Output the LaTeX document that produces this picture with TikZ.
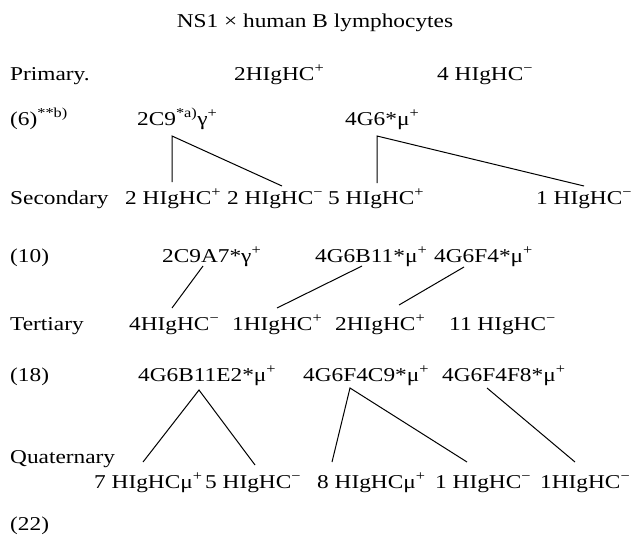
\documentclass[tikz,border=0pt]{standalone}
\usepackage{fontspec}
\setmainfont[FakeStretch=1.19]{Liberation Serif}
\usepackage{tikz}

\tikzset{
  txt/.style={anchor=base west, inner sep=0pt, font=\fontsize{19.6}{23}\selectfont},
  link/.style={line width=1pt}
}

\begin{document}
\begin{tikzpicture} [x=1pt, y=-1pt]
        \useasboundingbox (0, 0) rectangle (634, 535);
        \node[txt, anchor=base] (title) at (315, 28) {NS1 × human B lymphocytes};
        % row labels
        \node[txt] (rPrim) at (10, 80) {Primary.};
        \node[txt] (r6) at (10, 125) {(6)\textsuperscript{**b)}};
        \node[txt] (rSec) at (10, 204) {Secondary};
        \node[txt] (r10) at (10, 262) {(10)};
        \node[txt] (rTer) at (10, 330) {Tertiary};
        \node[txt] (r18) at (10, 381) {(18)};
        \node[txt] (rQua) at (10, 463) {Quaternary};
        \node[txt] (r22) at (10, 530) {(22)};
        % primary
        \node[txt] (p1) at (234, 80) {2HIgHC\textsuperscript{+}};
        \node[txt] (p2) at (437, 80) {4 HIgHC\textsuperscript{−}};
        \node[txt] (a1) at (137, 125) {2C9\textsuperscript{*a)}γ\textsuperscript{+}};
        \node[txt] (a2) at (345, 125) {4G6*μ\textsuperscript{+}};
        % secondary
        \node[txt] (s1) at (125, 204) {2 HIgHC\textsuperscript{+}};
        \node[txt] (s2) at (227, 204) {2 HIgHC\textsuperscript{−}};
        \node[txt] (s3) at (328, 204) {5 HIgHC\textsuperscript{+}};
        \node[txt] (s4) at (536, 204) {1 HIgHC\textsuperscript{−}};
        \node[txt] (b1) at (162, 262) {2C9A7*γ\textsuperscript{+}};
        \node[txt] (b2) at (315, 262) {4G6B11*μ\textsuperscript{+}};
        \node[txt] (b3) at (434, 262) {4G6F4*μ\textsuperscript{+}};
        % tertiary
        \node[txt] (t1) at (129, 330) {4HIgHC\textsuperscript{−}};
        \node[txt] (t2) at (232, 330) {1HIgHC\textsuperscript{+}};
        \node[txt] (t3) at (335, 330) {2HIgHC\textsuperscript{+}};
        \node[txt] (t4) at (449, 330) {11 HIgHC\textsuperscript{−}};
        \node[txt] (c1) at (138, 381) {4G6B11E2*μ\textsuperscript{+}};
        \node[txt] (c2) at (303, 381) {4G6F4C9*μ\textsuperscript{+}};
        \node[txt] (c3) at (442, 381) {4G6F4F8*μ\textsuperscript{+}};
        % quaternary
        \node[txt] (q1) at (94, 488) {7 HIgHCμ\textsuperscript{+}};
        \node[txt] (q2) at (205, 488) {5 HIgHC\textsuperscript{−}};
        \node[txt] (q3) at (317, 488) {8 HIgHCμ\textsuperscript{+}};
        \node[txt] (q4) at (435, 488) {1 HIgHC\textsuperscript{−}};
        \node[txt] (q5) at (540, 488) {1HIgHC\textsuperscript{−}};
        % links
        \draw[link] ([shift={(47,-22)}]s1.base west) -- ([shift={(35,11)}]a1.base west) -- ([shift={(55,-18)}]s2.base west);
        \draw[link] ([shift={(49,-21)}]s3.base west) -- ([shift={(32,11)}]a2.base west) -- ([shift={(48,-18)}]s4.base west);
        \draw[link] ([shift={(41,4)}]b1.base west) -- ([shift={(43,-22)}]t1.base west);
        \draw[link] ([shift={(47,4)}]b2.base west) -- ([shift={(45,-22)}]t2.base west);
        \draw[link] ([shift={(30,5)}]b3.base west) -- ([shift={(64,-25)}]t3.base west);
        \draw[link] ([shift={(49,-26)}]q1.base west) -- ([shift={(61,9)}]c1.base west) -- ([shift={(50,-23)}]q2.base west);
        \draw[link] ([shift={(15,-26)}]q3.base west) -- ([shift={(47,7)}]c2.base west) -- ([shift={(32,-26)}]q4.base west);
        \draw[link] ([shift={(45,7)}]c3.base west) -- ([shift={(35,-26)}]q5.base west);
    \end{tikzpicture}
\end{document}
